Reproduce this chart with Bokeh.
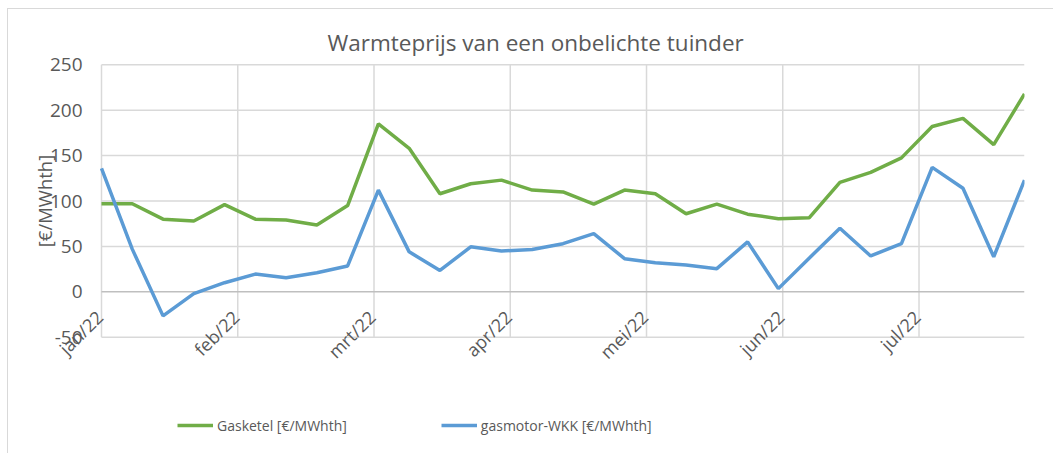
import math
from datetime import datetime, timedelta
from bokeh.plotting import figure
from bokeh.models import Range1d, Legend, LegendItem, ColumnDataSource
from bokeh.core.properties import value
from bokeh.embed import file_html
from bokeh.resources import INLINE

# ---- data ----
start = datetime(2022, 1, 1)
weeks = [start + timedelta(days=7 * i) for i in range(31)]
gasketel = [97, 97, 80, 78, 96, 80, 79, 73.5, 95, 185, 158, 108, 119, 123, 112, 110, 96.5,
            112, 108, 86, 96.5, 85.5, 80.5, 81.5, 120.5, 131.5, 147.5, 182, 191, 162, 218]
gasmotor = [136, 47, -26.5, -2, 10, 19.5, 15.5, 21, 28.5, 112, 44, 23.5, 49.5, 45, 46.5, 53, 64,
            36.5, 32, 29.5, 25.5, 55, 3.5, 37, 70, 39.5, 53, 137, 114, 38.5, 123]
tick_dates = [start + timedelta(days=31 * i) for i in range(7)]
tick_labels = ["jan/22", "feb/22", "mrt/22", "apr/22", "mei/22", "jun/22", "jul/22"]
y_ticks = [-50, 0, 50, 100, 150, 200, 250]
y_tick_labels = [str(v) for v in y_ticks]

title_text = "Warmteprijs van een onbelichte tuinder"
y_label = "[€/MWhth]"
series_names = ["Gasketel [€/MWhth]", "gasmotor-WKK [€/MWhth]"]
colors = ["#70ad47", "#5b9bd5"]

FONT = "Open Sans"
TXT = "#595959"
GRID = "#d9d9d9"
AXIS = "#bfbfbf"

# page coordinates of the canvas origin (css margin + border below)
OX, OY = 8, 9
y250_px, y_m50_px = 64.3, 336.7
plot_left, plot_top, plot_right, plot_bottom = 101, 55, 1024, 446
px_per_unit = (y_m50_px - y250_px) / 300.0
px_per_day = (plot_right - plot_left) / (weeks[-1] - start).days
y_bottom = min(y_ticks) - (plot_bottom - y_m50_px) / px_per_unit
y_top = max(y_ticks) + (y250_px - plot_top) / px_per_unit
x_left = start - timedelta(days=(plot_left - OX) / px_per_day)

W, H = 1046, 445
p = figure(width=W, height=H, output_backend="svg", toolbar_location=None,
           x_axis_type="datetime",
           x_range=Range1d(x_left, weeks[-1]), y_range=Range1d(y_bottom, y_top),
           min_border_left=0, min_border_right=W - (plot_right - OX),
           min_border_top=plot_top - OY, min_border_bottom=H - (plot_bottom - OY))
p.outline_line_color = None
p.styles = {"margin-left": "7px", "margin-top": "8px",
            "border-left": "1px solid #d9d9d9", "border-top": "1px solid #d9d9d9"}

p.title.text = title_text
p.title.align = "left"
p.title.offset = 327 - OX
p.title.text_font = FONT
p.title.text_font_size = "22.5px"
p.title.text_font_style = "normal"
p.title.text_color = TXT
p.title.standoff = -4

p.xaxis.visible = False
p.yaxis.visible = False
p.xgrid.visible = False
p.ygrid.visible = False

# gridlines
n = len(tick_dates)
p.segment(x0=tick_dates, y0=[min(y_ticks)] * n, x1=tick_dates, y1=[max(y_ticks)] * n,
          line_color=GRID, line_width=1.5)
m = len(y_ticks)
grid_cols = [AXIS if v == 0 else GRID for v in y_ticks]
p.segment(x0=[start] * m, y0=y_ticks, x1=[weeks[-1]] * m, y1=y_ticks,
          line_color=grid_cols, line_width=1.5)

# y tick labels & axis title
p.text(x=[start] * m, y=y_ticks, text=y_tick_labels, x_offset=-19,
       text_align="right", text_baseline="middle",
       text_font=value(FONT), text_font_size="19px", text_color=TXT)
p.text(x=[start], y=[(min(y_ticks) + max(y_ticks)) / 2], text=[y_label], x_offset=-57,
       angle=math.pi / 2, text_align="center", text_baseline="middle",
       text_font=value(FONT), text_font_size="18.5px", text_color=TXT)

# series
src = ColumnDataSource(dict(x=weeks, g=gasketel, m=gasmotor))
r1 = p.line("x", "g", source=src, line_color=colors[0], line_width=3.5)
r2 = p.line("x", "m", source=src, line_color=colors[1], line_width=3.5)

# x tick labels (Excel places them below the zero line)
tsrc = ColumnDataSource(dict(x=tick_dates, y=[0] * n, t=tick_labels))
p.text("x", "y", text="t", source=tsrc, angle=math.pi / 4, text_align="right",
       text_baseline="middle", x_offset=-2, y_offset=22,
       text_font=value(FONT), text_font_size="18px", text_color=TXT)

legend = Legend(items=[LegendItem(label=series_names[0], renderers=[r1]),
                       LegendItem(label=series_names[1], renderers=[r2])],
                orientation="horizontal", location=(169, 11))
legend.border_line_color = None
legend.background_fill_alpha = 0
legend.padding = 0
legend.margin = 0
legend.spacing = 94
legend.glyph_width = 36
legend.glyph_height = 20
legend.label_standoff = 4
legend.label_text_font = FONT
legend.label_text_font_size = "14px"
legend.label_text_color = TXT
p.add_layout(legend, "center")

open("out.html", "w").write(file_html(p, INLINE))
